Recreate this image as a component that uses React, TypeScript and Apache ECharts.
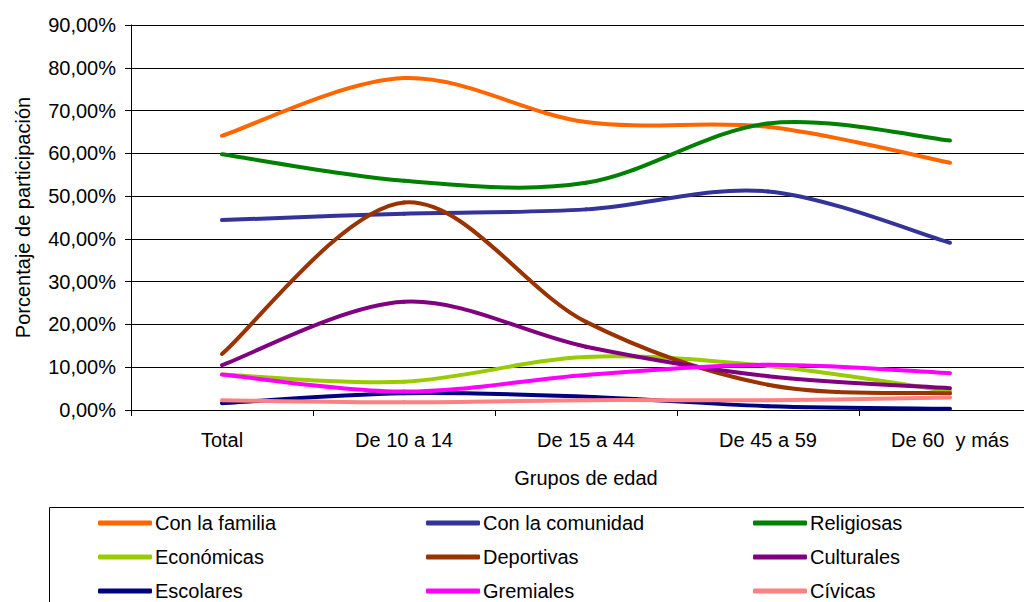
import React, { useEffect, useRef } from "react";
import * as echarts from "echarts";

const categories = ["Total", "De 10 a 14", "De 15 a 44", "De 45 a 59", "De 60  y más"];
const yTicks = [0, 10, 20, 30, 40, 50, 60, 70, 80, 90];

const conLaFamilia = [64.1, 77.6, 67.3, 66.2, 57.8];
const conLaComunidad = [44.4, 45.9, 46.9, 51.1, 39.1];
const religiosas = [59.8, 53.6, 53.1, 67.0, 63.0];
const economicas = [8.3, 6.6, 12.4, 10.3, 4.4];
const deportivas = [13.1, 48.5, 20.6, 5.9, 3.9];
const culturales = [10.5, 25.3, 14.8, 7.9, 5.1];
const escolares = [1.6, 3.9, 3.1, 0.9, 0.3];
const gremiales = [8.3, 4.3, 8.2, 10.6, 8.6];
const civicas = [2.3, 1.8, 2.3, 2.3, 2.9];

const seriesNames = [
  "Con la familia", "Con la comunidad", "Religiosas",
  "Económicas", "Deportivas", "Culturales",
  "Escolares", "Gremiales", "Cívicas",
];
const seriesData = [
  conLaFamilia, conLaComunidad, religiosas,
  economicas, deportivas, culturales,
  escolares, gremiales, civicas,
];
const seriesColors = [
  "#FF6600", "#333399", "#008000",
  "#99CC00", "#993300", "#800080",
  "#000080", "#FF00FF", "#FF8080",
];

const FONT = "'Liberation Sans', Arial, sans-serif";

// Smoothed line (Catmull-Rom style, like a spreadsheet's "smoothed line"),
// drawn segment by segment through the chart's own coordinate system.
function makeRenderItem(values: number[], color: string) {
  return (params: any, api: any) => {
    const i = params.dataIndex;
    const n = values.length;
    if (i >= n - 1) return null;
    const pt = (k: number) => {
      const kk = Math.max(0, Math.min(n - 1, k));
      return api.coord([kk, values[kk]]);
    };
    const p0 = pt(i - 1);
    const p1 = pt(i);
    const p2 = pt(i + 1);
    const p3 = pt(i + 2);
    const t = 1 / 6;
    return {
      type: "bezierCurve",
      shape: {
        x1: p1[0],
        y1: p1[1],
        cpx1: p1[0] + (p2[0] - p0[0]) * t,
        cpy1: p1[1] + (p2[1] - p0[1]) * t,
        cpx2: p2[0] - (p3[0] - p1[0]) * t,
        cpy2: p2[1] - (p3[1] - p1[1]) * t,
        x2: p2[0],
        y2: p2[1],
      },
      style: { stroke: color, lineWidth: 4, fill: null, lineCap: "round" },
    };
  };
}

export default function App() {
  const ref = useRef<HTMLDivElement>(null);
  useEffect(() => {
    if (!ref.current) return;
    const chart = echarts.init(ref.current, undefined, { renderer: "svg" });
    const legendCol = (names: string[], left: number) => ({
      show: true,
      orient: "vertical",
      left,
      top: 513,
      data: names,
      icon: "roundRect",
      itemWidth: 54,
      itemHeight: 5,
      itemGap: 14,
      padding: 0,
      textStyle: { fontFamily: FONT, fontSize: 20, color: "#000", padding: [0, 0, 0, -2] },
    });
    chart.setOption({
      animation: false,
      backgroundColor: "#fff",
      textStyle: { fontFamily: FONT },
      grid: {
        left: 131,
        top: 25,
        width: 910,
        height: 385,
        containLabel: false,
        outerBoundsMode: "none",
      },
      legend: [
        legendCol([seriesNames[0], seriesNames[3], seriesNames[6]], 98),
        legendCol([seriesNames[1], seriesNames[4], seriesNames[7]], 426),
        legendCol([seriesNames[2], seriesNames[5], seriesNames[8]], 753),
      ],
      graphic: [
        {
          type: "rect",
          shape: { x: 49.5, y: 507.5, width: 1100, height: 200 },
          style: { fill: "none", stroke: "#000", lineWidth: 1 },
          silent: true,
        },
      ],
      xAxis: {
        type: "category",
        data: categories,
        boundaryGap: true,
        name: "Grupos de edad",
        nameLocation: "middle",
        nameGap: 58,
        nameTextStyle: { fontFamily: FONT, fontSize: 20, color: "#000" },
        axisLine: { lineStyle: { color: "#000", width: 1 } },
        axisTick: { show: true, length: 6, lineStyle: { color: "#000" } },
        axisLabel: { fontFamily: FONT, fontSize: 20, color: "#000", margin: 20 },
        splitLine: { show: false },
      },
      yAxis: {
        type: "value",
        min: yTicks[0],
        max: yTicks[yTicks.length - 1],
        interval: 10,
        name: "Porcentaje de participación",
        nameLocation: "middle",
        nameGap: 98,
        nameTextStyle: { fontFamily: FONT, fontSize: 20, color: "#000" },
        axisLine: { show: true, lineStyle: { color: "#000", width: 1 } },
        axisTick: { show: true, length: 6, lineStyle: { color: "#000" } },
        axisLabel: {
          fontFamily: FONT,
          fontSize: 20,
          color: "#000",
          margin: 15,
          formatter: (v: number) => v.toFixed(2).replace(".", ",") + "%",
        },
        splitLine: { show: true, lineStyle: { color: "#000", width: 1 } },
      },
      series: seriesNames.map((name, i) => ({
        name,
        type: "custom",
        coordinateSystem: "cartesian2d",
        data: seriesData[i].map((v, k) => [k, v]),
        encode: { x: 0, y: 1 },
        renderItem: makeRenderItem(seriesData[i], seriesColors[i]),
        itemStyle: { color: seriesColors[i] },
        color: seriesColors[i],
        clip: false,
        z: 2 + i,
      })),
    });
    return () => chart.dispose();
  }, []);
  return (
    <div
      ref={ref}
      style={{ position: "fixed", left: 0, top: 0, width: 1024, height: 602 }}
    />
  );
}
